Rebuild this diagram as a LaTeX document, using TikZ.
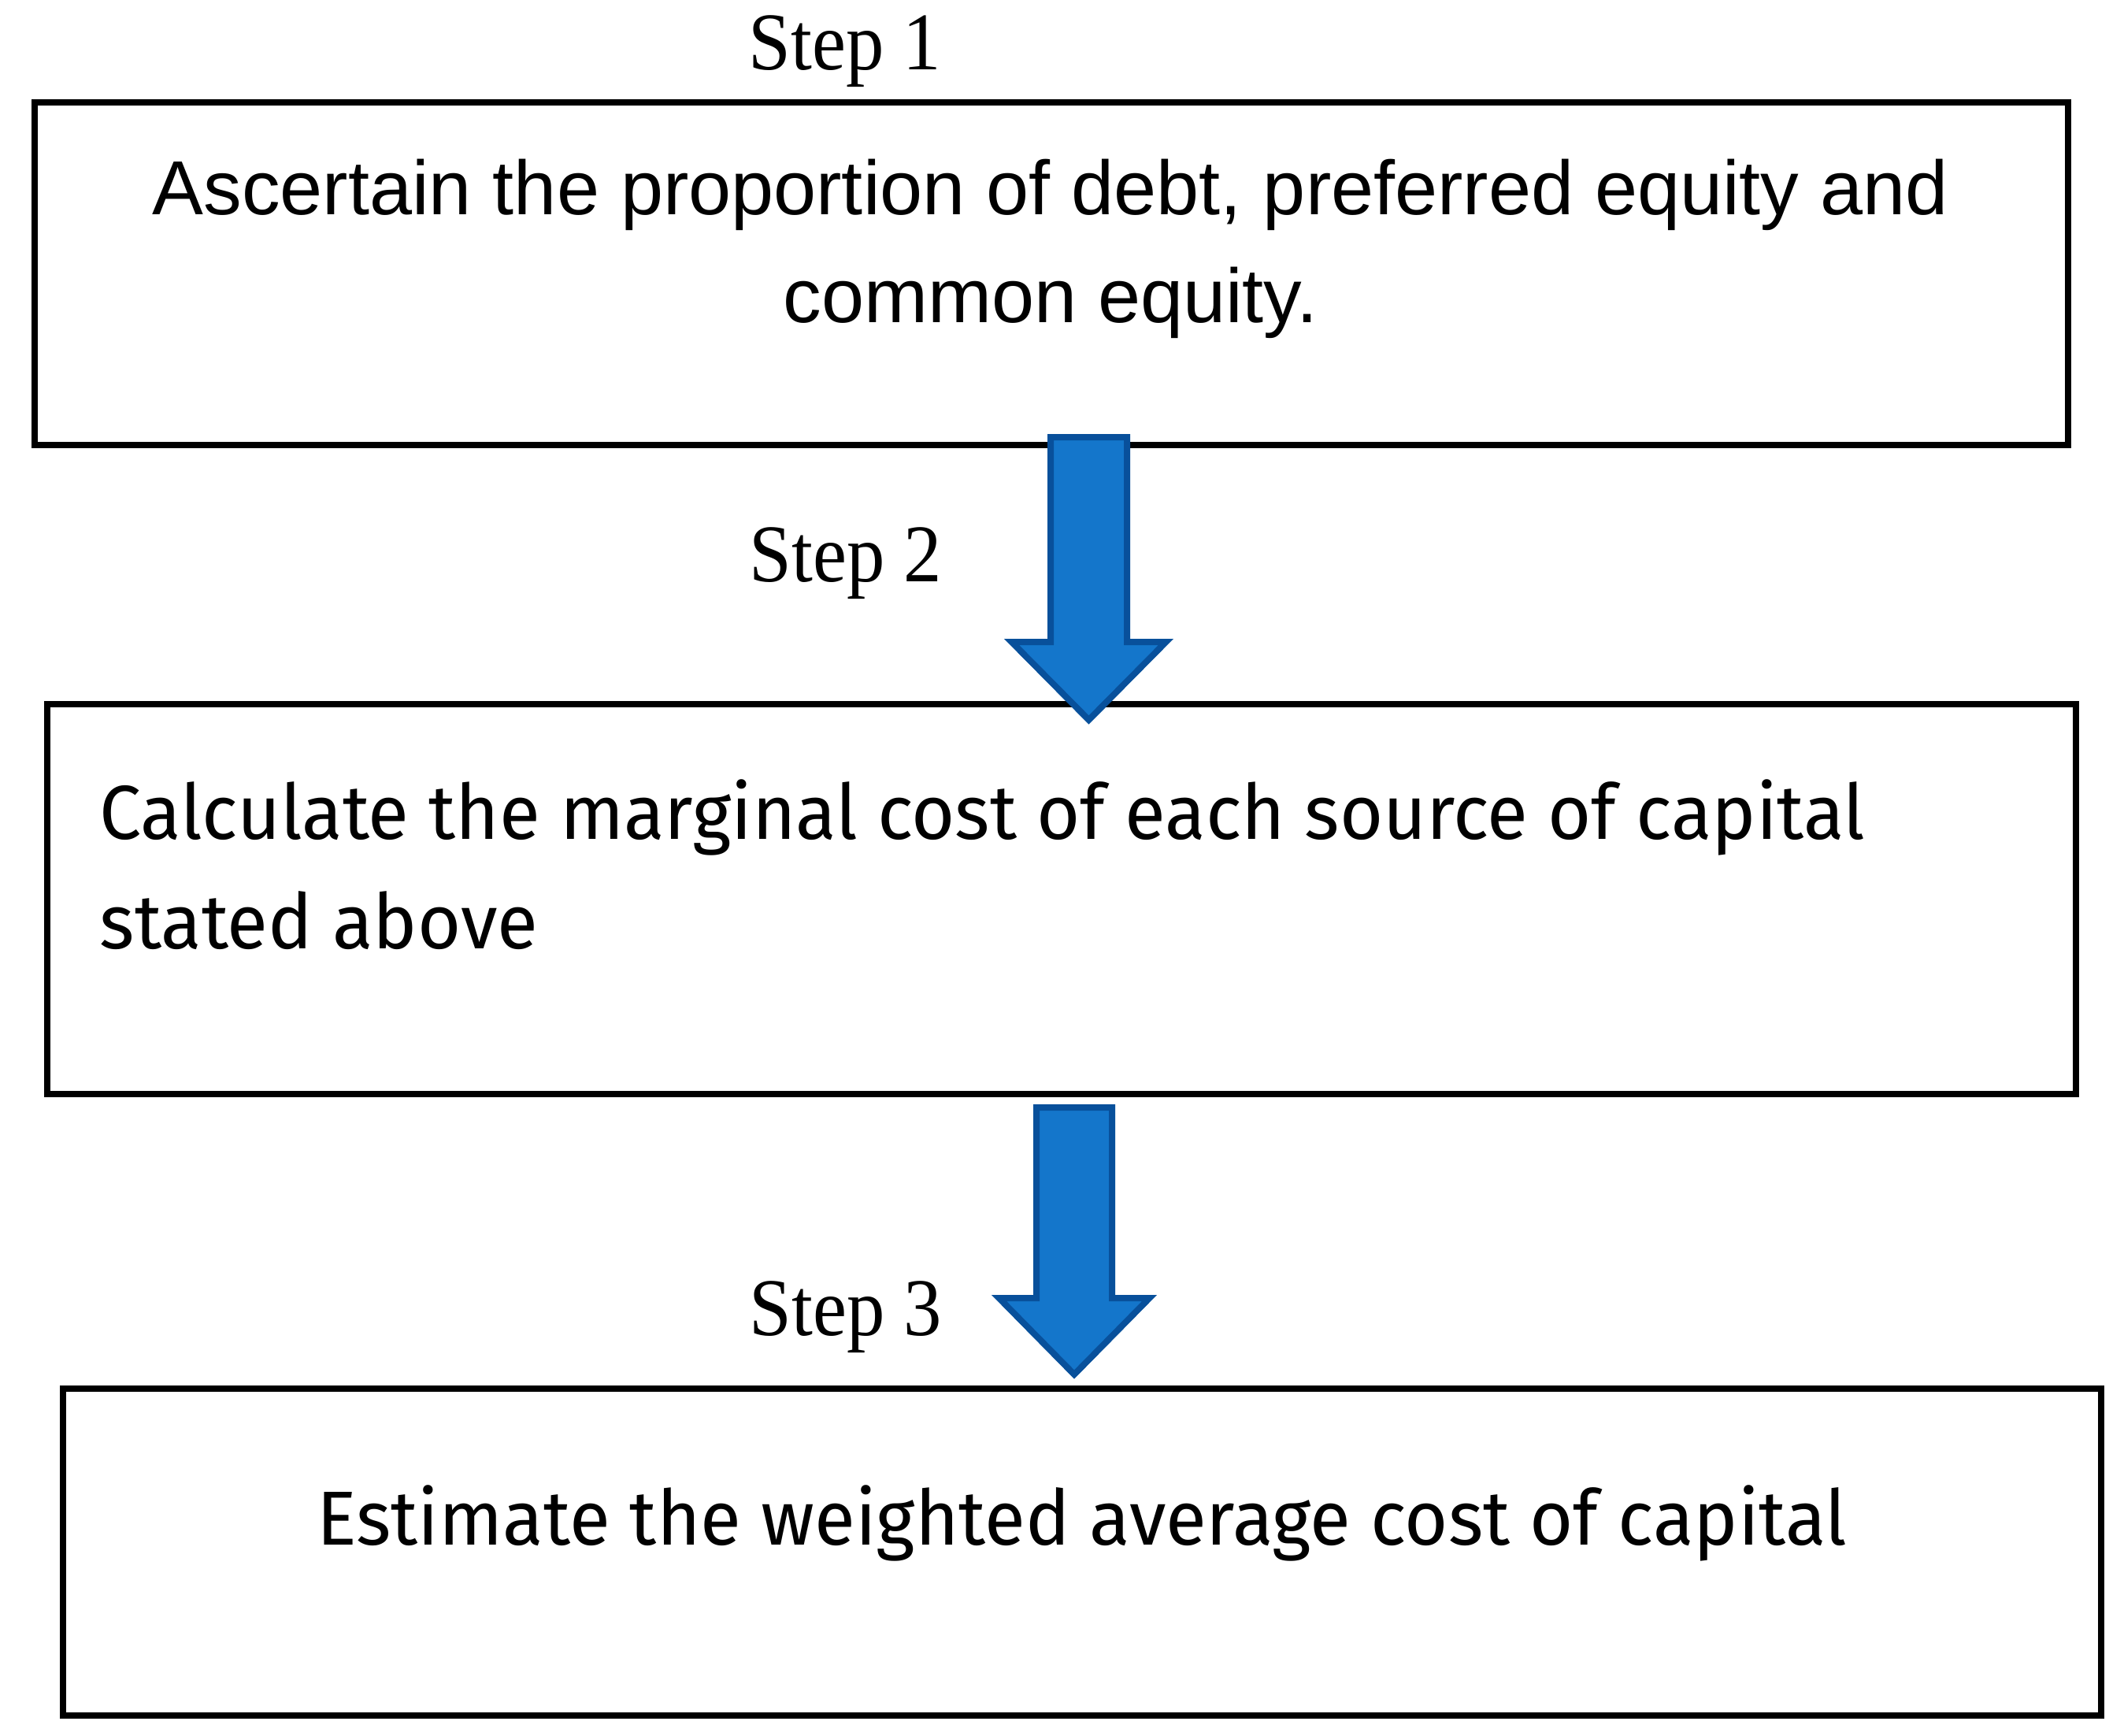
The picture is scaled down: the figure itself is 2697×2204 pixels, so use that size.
\documentclass[tikz,border=0pt]{standalone}
\usepackage{fontspec}
\usetikzlibrary{calc}
\newfontfamily\arialf{Liberation Sans}
\newfontfamily\aptosf[FakeStretch=0.975]{Fira Sans}
\newfontfamily\timesf[FakeStretch=0.93]{Liberation Serif}
\definecolor{arrowfill}{RGB}{20,118,203}
\definecolor{arrowdraw}{RGB}{8,80,155}
\begin{document}
\begin{tikzpicture}[x=0.25pt,y=-0.25pt,
  stepbox/.style={draw=black,line width=2.1pt,rectangle,inner sep=0pt,fill=none},
  steplabel/.style={anchor=base west,inner sep=0pt,font=\timesf\fontsize{26}{30}\selectfont},
  boxtext/.style={inner sep=0pt},
  bigarrow/.style={fill=arrowfill,draw=arrowdraw,line width=2pt,line join=miter}]
\useasboundingbox (0,0) rectangle (2697,2204);
% boxes
\node[stepbox,minimum width=645.5pt,minimum height=108.75pt] (b1) at (1335,347.5) {};
\node[stepbox,minimum width=644pt,minimum height=123.75pt] (b2) at (1348,1141.5) {};
\node[stepbox,minimum width=647pt,minimum height=103.75pt] (b3) at (1374,1970.5) {};
% texts
\node[boxtext,anchor=base,font=\arialf\fontsize{24.3}{34.25}\selectfont] (t1) at (1334,272)
  {\parbox[t]{640pt}{\centering Ascertain the proportion of debt, preferred equity and\\common equity.}};
\node[boxtext,anchor=base west,font=\aptosf\fontsize{24.3}{34.75}\selectfont] (t2) at (126,1065)
  {\parbox[t]{620pt}{\raggedright Calculate the marginal cost of each source of capital\\stated above}};
\node[boxtext,anchor=base,font=\aptosf\fontsize{24.3}{34.75}\selectfont] (t3) at (1374,1961)
  {Estimate the weighted average cost of capital};
% step labels
\node[steplabel] (s1) at (950,89) {Step 1};
\node[steplabel] (s2) at (951,738) {Step 2};
\node[steplabel] (s3) at (951,1695) {Step 3};
% arrows
\coordinate (a1t) at (1382.5,555);
\coordinate (a1h) at (1382.5,914);
\coordinate (a2t) at (1364,1406);
\coordinate (a2h) at (1364,1745);
\draw[bigarrow] ($(a1t)+(-48.5,0)$) -- ($(a1t)+(48.5,0)$) -- ($(a1h)+(48.5,-99)$) -- ($(a1h)+(98,-99)$) -- (a1h) -- ($(a1h)+(-98,-99)$) -- ($(a1h)+(-48.5,-99)$) -- cycle;
\draw[bigarrow] ($(a2t)+(-48,0)$) -- ($(a2t)+(48,0)$) -- ($(a2h)+(48,-97)$) -- ($(a2h)+(95.5,-97)$) -- (a2h) -- ($(a2h)+(-95.5,-97)$) -- ($(a2h)+(-48,-97)$) -- cycle;
\end{tikzpicture}
\end{document}
